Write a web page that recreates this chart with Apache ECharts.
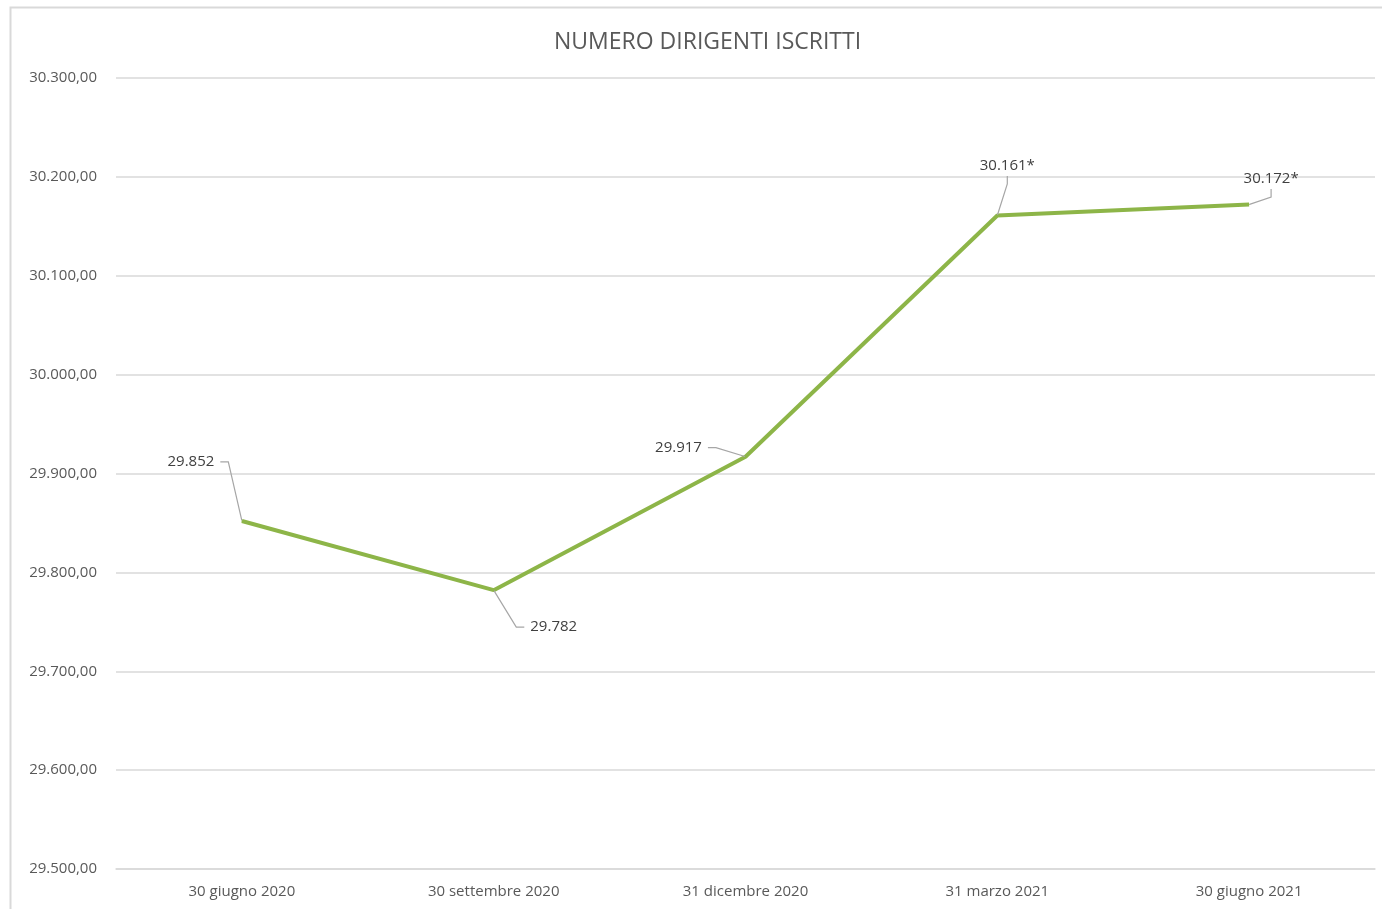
<!DOCTYPE html>
<html><head><meta charset="utf-8">
<script src="https://cdn.jsdelivr.net/npm/echarts@6/dist/echarts.min.js"></script>
<style>html,body{margin:0;padding:0;background:#fff}#c{width:1382px;height:909px}</style>
</head><body><div id="c"></div>
<script>
const title = 'NUMERO DIRIGENTI ISCRITTI';
const categories = ['30 giugno 2020', '30 settembre 2020', '31 dicembre 2020', '31 marzo 2021', '30 giugno 2021'];
const values = [29852, 29782, 29917, 30161, 30172];
const labelSuffix = ['', '', '', '*', '*'];
const yMin = 29500, yMax = 30300, yStep = 100;

const labelOffsets = [[-51, -59], [60, 37], [-67, -9], [10, -50], [22, -26]];
const fmtInt = v => String(v).replace(/\B(?=(\d{3})+(?!\d))/g, '.');
const fmtAxis = v => fmtInt(Math.round(v)) + ',00';
const FONT = 'Open Sans';

const chart = echarts.init(document.getElementById('c'));
chart.setOption({
  animation: false,
  backgroundColor: '#fff',
  title: {text: title, left: 549, top: 26, textStyle: {fontFamily: FONT, fontSize: 23, fontWeight: 'normal', color: '#595959'}},
  graphic: [{type: 'rect', shape: {x: 10.5, y: 7.5, width: 1400, height: 1000}, style: {fill: 'none', stroke: '#d9d9d9', lineWidth: 2}, silent: true, z: -1}],
  grid: {left: 116, right: 7, top: 78, bottom: 40},
  xAxis: {type: 'category', data: categories, boundaryGap: true,
    axisLine: {show: true, lineStyle: {color: '#d9d9d9', width: 1.5}}, axisTick: {show: false},
    axisLabel: {fontFamily: FONT, fontSize: 15, color: '#595959', margin: 15}},
  yAxis: {type: 'value', min: yMin, max: yMax, interval: yStep,
    axisLine: {show: false}, axisTick: {show: false},
    splitLine: {lineStyle: {color: '#d9d9d9', width: 1.5}},
    axisLabel: {fontFamily: FONT, fontSize: 15, color: '#595959', margin: 19, formatter: fmtAxis}},
  series: [{
    type: 'line', data: values,
    symbol: 'circle', symbolSize: 1, showSymbol: true,
    itemStyle: {color: '#8db548'},
    lineStyle: {color: '#8db548', width: 4},
    label: {show: true, position: 'inside', fontFamily: FONT, fontSize: 15, color: '#404040', padding: [3, 6],
      backgroundColor: 'rgba(255,255,255,0)',
      formatter: p => fmtInt(p.value) + labelSuffix[p.dataIndex]},
    labelLine: {show: true, length2: 8, lineStyle: {color: '#a6a6a6', width: 1.2}},
    labelLayout: p => ({dx: labelOffsets[p.dataIndex][0], dy: labelOffsets[p.dataIndex][1]})
  }]
});
</script></body></html>
